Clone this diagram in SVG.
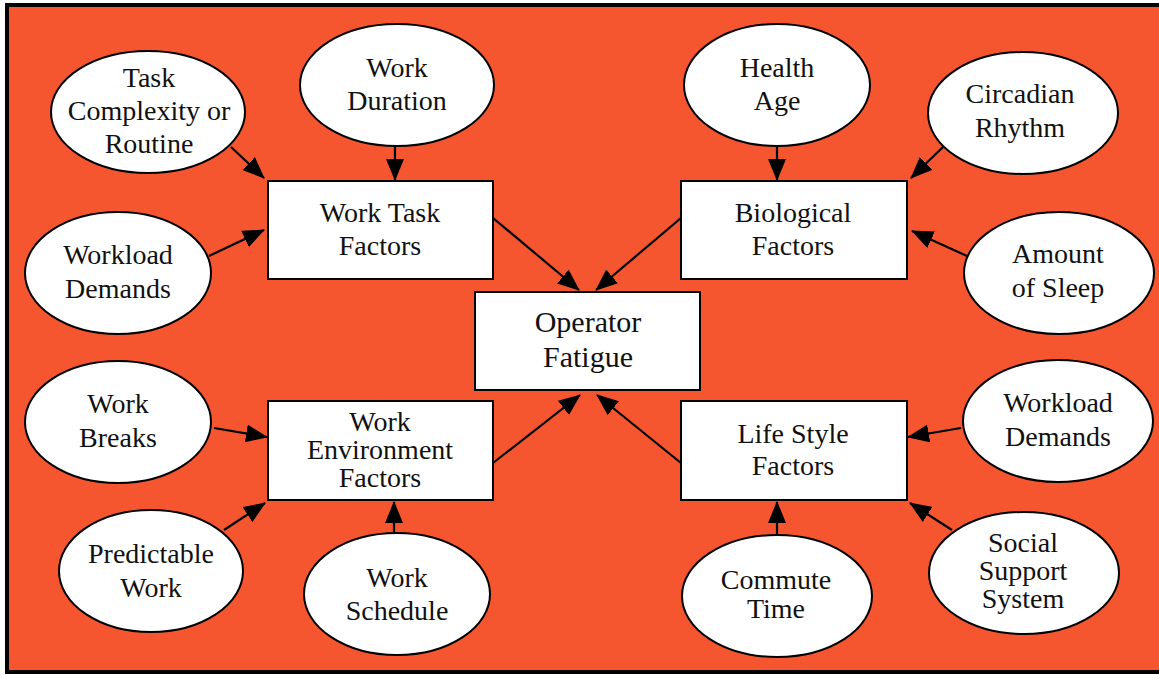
<svg xmlns="http://www.w3.org/2000/svg" width="1159" height="675" viewBox="0 0 1159 675">
<style>
.n ellipse,.n rect{fill:#fff;stroke:#000;stroke-width:2}
text{font-family:"Liberation Serif","Times New Roman",serif;font-size:28px;fill:#111;text-anchor:middle}
.big{font-size:30px}
.c line{stroke:#000;stroke-width:2.2;marker-end:url(#ah)}
</style>
<defs>
<marker id="ah" markerUnits="userSpaceOnUse" markerWidth="22" markerHeight="18" refX="21" refY="9" orient="auto">
<path d="M0,0 L22,9 L0,18 z" fill="#000"/>
</marker>
</defs>
<rect x="0" y="0" width="1159" height="675" fill="#fff"/>
<rect x="7" y="5" width="1160" height="667" fill="#F5562F" stroke="#000" stroke-width="4"/>
<g class="c">
<line x1="231" y1="147" x2="264" y2="178"/>
<line x1="395" y1="147" x2="395" y2="180"/>
<line x1="209" y1="256" x2="264" y2="230"/>
<line x1="493" y1="218" x2="579" y2="290"/>
<line x1="681" y1="218" x2="596" y2="290"/>
<line x1="777" y1="147" x2="777" y2="180"/>
<line x1="943" y1="147" x2="911" y2="178"/>
<line x1="967" y1="256" x2="912" y2="231"/>
<line x1="214" y1="428" x2="267" y2="437"/>
<line x1="224" y1="530" x2="265" y2="503"/>
<line x1="394" y1="533" x2="394" y2="502"/>
<line x1="493" y1="463" x2="580" y2="395"/>
<line x1="681" y1="463" x2="597" y2="395"/>
<line x1="961" y1="428" x2="908" y2="437"/>
<line x1="777" y1="535" x2="777" y2="502"/>
<line x1="952" y1="530" x2="910" y2="503"/>
</g>
<g id="task-complexity" class="n"><ellipse cx="148" cy="112" rx="97" ry="61"/><text x="149" y="87">Task</text><text x="149" y="120">Complexity or</text><text x="149" y="153">Routine</text></g>
<g id="work-duration" class="n"><ellipse cx="397" cy="85" rx="97" ry="61"/><text x="397" y="77">Work</text><text x="397" y="110">Duration</text></g>
<g id="workload-demands-l" class="n"><ellipse cx="118" cy="273" rx="93" ry="61"/><text x="118" y="264">Workload</text><text x="118" y="298">Demands</text></g>
<g id="work-task" class="n"><rect x="268" y="181" width="225" height="98"/><text x="380" y="222">Work Task</text><text x="380" y="255">Factors</text></g>
<g id="operator-fatigue" class="n"><rect x="475" y="292" width="225" height="98"/><text class="big" x="588" y="332">Operator</text><text class="big" x="588" y="367">Fatigue</text></g>
<g id="biological" class="n"><rect x="681" y="181" width="226" height="98"/><text x="793" y="222">Biological</text><text x="793" y="255">Factors</text></g>
<g id="health-age" class="n"><ellipse cx="777" cy="85" rx="93" ry="61"/><text x="777" y="77">Health</text><text x="777" y="110">Age</text></g>
<g id="circadian" class="n"><ellipse cx="1023" cy="113" rx="95" ry="61"/><text x="1020" y="103">Circadian</text><text x="1020" y="137">Rhythm</text></g>
<g id="amount-sleep" class="n"><ellipse cx="1059" cy="273" rx="95" ry="61"/><text x="1058" y="263">Amount</text><text x="1058" y="297">of Sleep</text></g>
<g id="work-breaks" class="n"><ellipse cx="118" cy="422" rx="93" ry="61"/><text x="118" y="413">Work</text><text x="118" y="447">Breaks</text></g>
<g id="work-environment" class="n"><rect x="268" y="401" width="225" height="99"/><text x="380" y="431">Work</text><text x="380" y="459">Environment</text><text x="380" y="487">Factors</text></g>
<g id="predictable-work" class="n"><ellipse cx="151" cy="571" rx="92" ry="61"/><text x="151" y="563">Predictable</text><text x="151" y="597">Work</text></g>
<g id="work-schedule" class="n"><ellipse cx="397" cy="594" rx="93" ry="61"/><text x="397" y="587">Work</text><text x="397" y="620">Schedule</text></g>
<g id="life-style" class="n"><rect x="681" y="401" width="226" height="99"/><text x="793" y="443">Life Style</text><text x="793" y="475">Factors</text></g>
<g id="workload-demands-r" class="n"><ellipse cx="1058" cy="421" rx="95" ry="61"/><text x="1058" y="412">Workload</text><text x="1058" y="446">Demands</text></g>
<g id="commute-time" class="n"><ellipse cx="777" cy="596" rx="95" ry="61"/><text x="776" y="589">Commute</text><text x="776" y="618">Time</text></g>
<g id="social-support" class="n"><ellipse cx="1024" cy="573" rx="95" ry="61"/><text x="1023" y="552">Social</text><text x="1023" y="580">Support</text><text x="1023" y="608">System</text></g>
</svg>
